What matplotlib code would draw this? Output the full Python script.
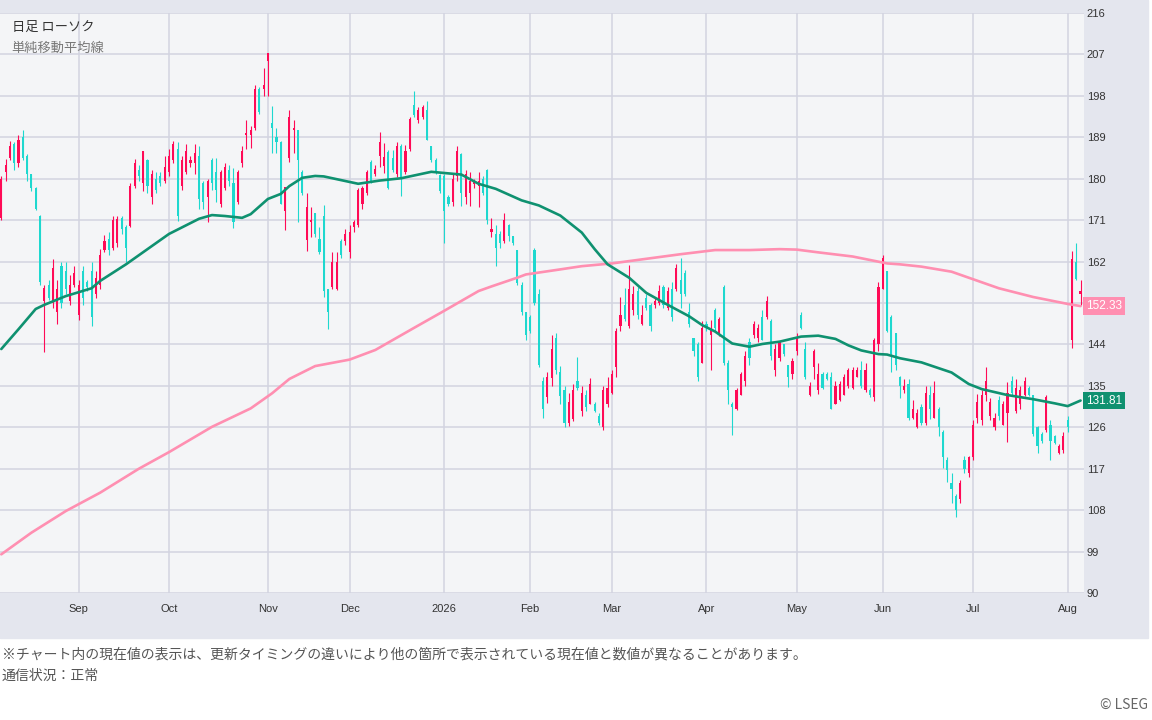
import numpy as np
import pandas as pd
import matplotlib
matplotlib.use("Agg")
import matplotlib.pyplot as plt
from matplotlib.patches import Rectangle
import matplotlib.transforms as mtransforms

# US trading days shown on the chart
us_holidays = ["2025-09-01", "2025-11-27", "2025-12-25", "2026-01-01", "2026-01-19",
               "2026-02-16", "2026-04-03", "2026-05-25", "2026-06-19", "2026-07-03"]
dates = pd.bdate_range("2025-08-06", "2026-08-06", freq="C", holidays=us_holidays)

# daily OHLC
opens = [
    171.5, 181.5, 184.6, 187.5, 183.5, 189, 185, 181, 178, 172,
    153.5, 157, 153, 151, 161, 160, 153.5, 157, 150.5, 160,
    157.5, 160, 155, 157, 164.5, 167, 165, 166, 171.5, 169.5,
    169.8, 178.5, 182, 179, 184, 176, 180, 180.5, 179.5, 181.5,
    184, 186.5, 178.5, 181.5, 183.5, 183.5, 185, 179, 176, 184,
    181.5, 174.5, 178, 182, 179, 175, 183.5, 189.5, 189.5, 191,
    199.5, 199.5, 205.5, 192, 189, 188, 173, 184.5, 190.5, 190.6,
    181.5, 166.6, 170.5, 172.5, 167, 172, 156, 156.5, 156, 166.5,
    166.5, 164, 169.5, 170, 174.5, 176.8, 183.6, 181, 185, 182.7,
    185.8, 184.5, 181, 187, 181.5, 186.5, 196, 192.7, 193.5, 195,
    187, 184, 180.7, 180.5, 176, 175, 180.5, 185.4, 176, 177,
    178.8, 178.5, 180, 182, 168.5, 168, 168, 166.5, 170, 167.5,
    164.5, 157, 151, 150, 164.5, 155, 136, 132.5, 136.8, 145.5,
    138, 134, 127, 127.7, 136, 129.5, 133, 131, 131, 128.5,
    126, 131, 133.5, 139, 148, 152.5, 148, 151.5, 155.5, 148.5,
    154, 152.5, 152.5, 153, 156.5, 152, 156, 156, 158, 159.5,
    151, 145.5, 144, 140, 148.5, 146, 151.5, 146, 156.5, 140,
    131, 130, 133, 136, 144.5, 146, 145.5, 150, 150, 149,
    138.5, 141, 144, 139.5, 137.5, 142.5, 150.5, 143, 133, 139,
    134, 137.5, 137.5, 137, 131, 132, 133, 135, 134.5, 137,
    138.5, 134, 134, 132.5, 144, 156, 160, 150, 146.5, 137,
    134, 135.5, 128, 126, 130.5, 127, 133, 128, 130, 125,
    119, 114, 111, 110.5, 119, 116, 119.5, 128, 127.5, 133,
    128.5, 126, 132, 126.5, 129, 136, 129.5, 131, 133, 134.5,
    133, 126, 124.5, 125.5, 126.5, 124, 120.5, 121, 127.5, 145,
    162, 155,
]
highs = [
    180.5, 184.3, 188.3, 188, 189.5, 190.5, 185.4, 181, 178.2, 172.2,
    157, 158, 162.5, 158, 162, 162, 159, 161, 158, 161,
    158, 161.8, 160, 164.7, 167.8, 168.5, 171.8, 172, 172, 170,
    179.1, 184.3, 183, 186.1, 184.3, 182, 181.5, 181.5, 185, 186.5,
    188.3, 188, 185, 187.5, 185, 187.5, 187, 179.5, 180, 184.5,
    184.4, 182, 183.5, 183, 182.4, 182, 187, 192.8, 191.4, 200.3,
    200, 204, 207.4, 195.7, 191, 188.3, 178.3, 195, 192.8, 190.6,
    182, 176.8, 173.9, 172.5, 169.5, 174.3, 156, 164, 164, 167,
    169, 170, 171, 178, 178.5, 182, 184, 183, 190.2, 187.8,
    186.3, 186.3, 188, 187.5, 187.3, 193.5, 199, 195.5, 196, 196.8,
    187, 184.5, 181, 181, 176.5, 181, 187, 185.5, 182, 181.5,
    180, 181.5, 180.5, 182.2, 171.5, 170, 168.7, 172.5, 170.1, 167.5,
    164.6, 157.5, 151, 150.5, 165, 156, 137, 138, 146, 146.5,
    139.4, 135, 133.5, 135.5, 141.2, 135, 134, 136.6, 131.5, 129,
    135, 137, 138.5, 147.5, 154.3, 156.2, 161.2, 156.8, 156.5, 152.5,
    155, 153, 154, 157, 157, 156.5, 157.5, 161.5, 162.7, 160.2,
    153, 145.5, 144.5, 149, 149, 149.4, 152, 150, 157, 140.7,
    131.5, 134.5, 138, 142.5, 145.5, 149, 148.5, 151.5, 154.5, 149.5,
    144, 144.5, 144, 139.5, 141, 146.5, 151, 144.5, 135.8, 143,
    140, 138, 138, 138, 136, 136, 137.5, 138.8, 139, 139,
    140.5, 140, 134.5, 145.5, 157.5, 163.5, 160, 150.5, 146.5, 137.2,
    136.4, 136.5, 132, 130, 131, 135, 135, 136, 130.5, 125.5,
    119.5, 116, 111.6, 114.6, 119.7, 119.7, 127.5, 133.2, 134, 139,
    132.4, 129.2, 132.8, 131.7, 135.8, 137.2, 136.5, 135, 137, 135,
    133, 126.3, 125, 133, 127.5, 124.3, 122.3, 125, 128.5, 164.2,
    166, 158,
]
lows = [
    171, 179.5, 184, 182, 182.5, 184, 179.5, 177.3, 173.3, 156.9,
    142.3, 153.6, 152, 148.5, 152, 155, 152.5, 156.5, 149.4, 152.6,
    155.5, 148.1, 154, 156, 164, 163.5, 164.5, 165.2, 168, 162,
    169.5, 178, 179.5, 177.3, 176.8, 174.5, 176.8, 178.5, 179, 180.5,
    183.5, 170.8, 177.5, 181, 182.5, 181, 173.5, 173.5, 170.6, 177.5,
    175, 173.9, 177.5, 178.5, 169.2, 174.5, 182.5, 186.5, 186.6, 190.5,
    194, 198, 198, 185.5, 185.5, 174.6, 168.8, 183.7, 185.5, 170.6,
    176.5, 164.4, 167.3, 167.3, 163.7, 154.3, 147.4, 156, 155.8, 162.7,
    165.5, 162.7, 168.5, 169.5, 173.5, 176.5, 179, 180.5, 182.5, 181.3,
    177.7, 181.5, 180.4, 176.3, 181, 186, 193.5, 192, 193, 188.4,
    183.6, 181, 177, 166, 174, 174, 179.6, 174.1, 174.5, 174,
    178, 173.8, 176.5, 170.1, 167.3, 161, 165, 166, 166.5, 165.5,
    157, 150.5, 145, 146.5, 152.5, 139, 128, 131.3, 135, 137.5,
    131, 126, 126.2, 127.4, 134, 128.5, 129.5, 131, 129.3, 126.5,
    125.5, 130.5, 133.3, 137, 147, 149, 147.5, 150.5, 149.5, 148.3,
    151.5, 147, 152, 152.5, 152, 151.5, 149, 155.5, 152, 154.5,
    147.8, 141.5, 136, 140, 147, 138.4, 147, 145.8, 139.5, 131,
    124.3, 129.7, 133, 135, 139.5, 145.5, 144.5, 145, 149.5, 140.7,
    137.2, 140.5, 141.5, 134.8, 136.5, 141.8, 147.3, 136.5, 132.9, 136.5,
    133.2, 134.3, 136.3, 129.9, 131, 131.8, 133, 134.5, 134.3, 137,
    134.5, 133.7, 132.5, 131.8, 142.5, 156, 146.8, 138, 138.5, 132.4,
    133.5, 127.5, 127.8, 125.8, 126.6, 126.4, 127.8, 128, 124, 117.2,
    114.2, 109.5, 106.5, 109.5, 116, 115.3, 119, 127, 126.6, 131.8,
    127.5, 125.5, 127.5, 126.5, 122.7, 132.8, 129, 130, 132.8, 132.8,
    124, 120.5, 122.6, 125, 118.8, 122.3, 120.2, 120.4, 125, 143.2,
    158, 152.5,
]
closes = [
    180, 183, 187.2, 183.5, 188.5, 184.5, 181, 178, 173.5, 157.5,
    156.2, 154, 160.5, 156, 153, 156, 157, 159.5, 157, 154,
    156.5, 150, 158.5, 163.5, 166.5, 164.5, 171, 171.2, 169, 165,
    178.5, 183.5, 180.5, 186, 178.5, 181, 177.5, 179, 182.5, 185,
    187.5, 172, 184, 186, 184, 185.5, 175.5, 175, 179.5, 179,
    177.5, 181.5, 182.5, 179.5, 170.6, 181.5, 186, 190, 190.5, 199.5,
    194.5, 200.3, 207.4, 191, 188, 174.6, 178.3, 193.5, 191, 184,
    177, 173.9, 171, 168, 164, 155.7, 151, 162, 162, 163.5,
    168, 168.5, 170.5, 177.5, 178, 181.5, 179.6, 182.2, 188, 184.8,
    178, 182, 187, 180, 186, 193, 193.8, 195, 195.5, 188.4,
    184, 181.5, 177.4, 173, 174.5, 180, 186, 177, 181, 179.5,
    179.2, 179.5, 177, 171, 169, 165, 166, 171, 167.5, 166,
    157.4, 151, 146, 147, 153, 139.5, 130, 137, 143, 138.5,
    132.8, 127, 131.5, 134, 134.5, 133.5, 130.5, 135.5, 129.5, 127,
    134, 134.5, 137.5, 147, 150.5, 149.5, 156, 155, 150.5, 150.5,
    152, 148, 153.5, 155.5, 152.5, 155.5, 150, 160.5, 155, 155,
    148.5, 142.5, 137, 147.5, 147.5, 147.5, 147.5, 149.5, 140, 134,
    130.5, 134, 137.5, 141.5, 141, 148.5, 147.5, 145, 153.5, 141.5,
    143, 144.5, 142, 137, 140.5, 145.5, 147.5, 137, 135, 142.5,
    137.5, 134.5, 136.5, 130, 135, 135.5, 137, 138.5, 138.5, 138.5,
    135, 138.5, 133, 145, 156.5, 162.7, 147, 142, 139.5, 135,
    135, 128, 130, 129, 127, 133.5, 130, 133.5, 126, 119.5,
    116.8, 112.5, 108, 114, 117, 119.5, 126.5, 131.5, 133, 136,
    131.5, 128, 128.5, 131, 133.5, 133.5, 134.5, 134, 136, 133,
    124.5, 122, 123, 132.5, 123, 122.5, 122, 124, 126, 162.5,
    158.2, 155.5,
]

# moving averages (trading-day index, value)
sma_short_day = [0, 4, 8, 10, 15, 21, 23, 29, 34, 39, 46, 49, 52, 56, 58, 62, 65, 67,
                 70, 73, 75, 78, 83, 88, 93, 100, 107, 111, 115, 121, 125, 130, 135,
                 138, 141, 146, 150, 155, 160, 163, 166, 170, 174, 177, 181, 186, 190,
                 194, 197, 200, 204, 206, 209, 214, 221, 225, 228, 234, 240, 245, 248,
                 251]
sma_short_val = [143, 147.3, 151.7, 152.6, 154.5, 156.2, 157.8, 161.4, 164.7, 168,
                 171.3, 172.1, 171.9, 171.5, 172.3, 175.6, 176.7, 178.4, 180.2, 180.6,
                 180.5, 179.9, 178.9, 179.6, 180.1, 181.5, 180.9, 178.9, 177.8, 175.3,
                 174.2, 172, 168.3, 164.7, 161.4, 158.5, 155.2, 152.6, 150.1, 148.2,
                 146.8, 144.2, 143.5, 144.1, 144.6, 145.7, 145.9, 145.2, 143.8, 142.7,
                 141.9, 141.8, 141, 140.1, 137.9, 135.4, 134.3, 133, 132.1, 131.2,
                 130.6, 131.81]
sma_long_day = [0, 7, 15, 23, 32, 39, 49, 58, 63, 67, 73, 81, 87, 96, 103, 111, 114,
                120, 122, 130, 135, 142, 150, 158, 166, 174, 181, 185, 190, 198, 206,
                209, 214, 221, 232, 240, 248, 251]
sma_long_val = [98.4, 103.1, 107.8, 111.8, 117, 120.6, 126.1, 130.1, 133.4,
                136.5, 139.3, 140.7, 142.8, 147.6, 151.3, 155.6, 156.6, 158.5, 159.2,
                160.3, 161, 161.6, 162.6, 163.6, 164.5, 164.5, 164.7, 164.6, 164,
                163.1, 161.6, 161.4, 160.9, 159.8, 156.2, 154.3, 152.8, 152.33]

yticks = list(range(90, 217, 9))

UP = "#ff0a56"
DOWN = "#1ed8cf"
GREEN = "#0f9170"
PINK = "#ff8fb1"
GRID = "#d3d4e0"
JP = ["Noto Sans CJK JP", "DejaVu Sans"]

plt.rcParams["font.family"] = ["Liberation Sans", "DejaVu Sans"]

fig = plt.figure(figsize=(11.52, 7.2), dpi=100)
fig.patches.append(Rectangle((0, 1 - 638 / 720), 1148 / 1152, 638 / 720,
                             transform=fig.transFigure, color="#e4e6ee", zorder=-1))
ax = fig.add_axes([0, 1 - 593 / 720, 1084 / 1152, 580 / 720])
ax.set_zorder(1)
ax.set_facecolor("#f4f5f7")

o = np.array(opens)
h = np.array(highs)
l = np.array(lows)
c = np.array(closes)
idx = np.arange(len(c))
cols = np.where(c >= o, UP, DOWN)

ax.vlines(idx, l, h, colors=cols, lw=0.8, zorder=3)
body = np.maximum(np.abs(c - o), 0.35)
ax.bar(idx, body, bottom=np.minimum(o, c), width=0.5, color=cols, zorder=3)

ax.plot(sma_long_day, sma_long_val, color=PINK, lw=1.9, zorder=4,
        solid_joinstyle="round", solid_capstyle="round")
ax.plot(sma_short_day, sma_short_val, color=GREEN, lw=1.9, zorder=4,
        solid_joinstyle="round", solid_capstyle="round")

# month ticks at the first trading day of each month
month_pos = [i for i in range(1, len(dates)) if dates[i].month != dates[i - 1].month]
month_lab = [str(dates[i].year) if dates[i].month == 1 else dates[i].strftime("%b")
             for i in month_pos]

ax.set_xlim(-0.3, 251.8)
ax.set_ylim(90, 216)
ax.set_xticks(month_pos)
ax.set_xticklabels(month_lab)
ax.set_yticks(yticks)
# the 153 label sits under the long-average value tag
ax.set_yticklabels(["" if v == 153 else str(v) for v in yticks])
ax.yaxis.tick_right()
ax.grid(True, color=GRID, lw=1.1, zorder=0)
ax.set_axisbelow(True)
for s in ax.spines.values():
    s.set_visible(False)
ax.tick_params(axis="both", length=0, labelsize=8, labelcolor="#333333")
ax.tick_params(axis="y", pad=2)
ax.tick_params(axis="x", pad=8)

# current value tags
trans = mtransforms.blended_transform_factory(ax.transAxes, ax.transData)
ax.text(1.002, sma_long_val[-1], f"{sma_long_val[-1]:.2f}", transform=trans,
        ha="left", va="center", fontsize=8.5, color="white", clip_on=False, zorder=6,
        bbox=dict(boxstyle="square,pad=0.25", fc=PINK, ec="none"))
ax.text(1.002, sma_short_val[-1], f"{sma_short_val[-1]:.2f}", transform=trans,
        ha="left", va="center", fontsize=8.5, color="white", clip_on=False, zorder=6,
        bbox=dict(boxstyle="square,pad=0.25", fc=GREEN, ec="none"))

ax.text(12 / 1084, 1 - 14 / 580, "日足 ローソク", family=JP, fontsize=9.5,
        color="#333333", va="center", transform=ax.transAxes, zorder=7)
ax.text(11 / 1084, 1 - 35 / 580, "単純移動平均線", family=JP, fontsize=9.5,
        color="#777777", va="center", transform=ax.transAxes, zorder=7)

fig.text(2 / 1152, 1 - 655 / 720,
         "※チャート内の現在値の表示は、更新タイミングの違いにより他の箇所で表示されている現在値と数値が異なることがあります。",
         family=JP, fontsize=10, color="#555555", va="center")
fig.text(2 / 1152, 1 - 676 / 720, "通信状況：正常", family=JP, fontsize=10,
         color="#555555", va="center")
fig.text(1148 / 1152, 1 - 705 / 720, "© LSEG", family=JP, fontsize=10,
         color="#666666", va="center", ha="right")

fig.savefig("out.png", dpi=100)
